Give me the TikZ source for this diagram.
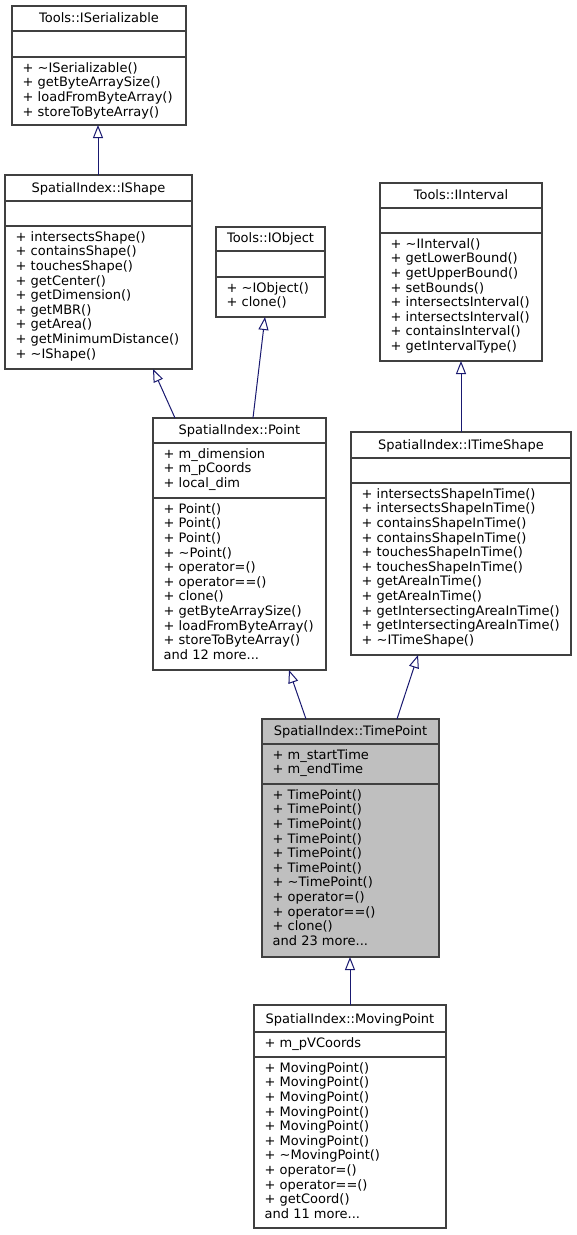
\documentclass[tikz,border=0pt]{standalone}
\usepackage{fontspec}
\setmainfont{DejaVu Sans}
\usetikzlibrary{arrows.meta}
\definecolor{edgeblue}{HTML}{191970}
\definecolor{boxborder}{HTML}{404040}
\definecolor{tpfill}{HTML}{BFBFBF}
\tikzset{
  classbox/.style={draw=boxborder, line width=1.3pt, inner sep=0pt, outer sep=0pt, anchor=north west},
  sepline/.style={draw=boxborder, line width=1.3pt},
  titletext/.style={anchor=base, inner sep=0pt, font=\fontsize{13}{14.6}\selectfont},
  membertext/.style={anchor=north west, inner sep=0pt, align=left, font=\fontsize{13}{14.6}\selectfont},
  inherit/.style={draw=edgeblue, line width=1pt, -{Triangle[open, length=13pt, width=10pt]}},
}
\def\umlgeom#1,#2,#3,#4,#5,#6\relax{\def\umll{#1}\def\umlt{#2}\def\umlr{#3}\def\umlb{#4}\def\umlla{#5}\def\umllb{#6}}
\newcommand\umlclass[6][white]{%
  \umlgeom#3\relax
  \pgfmathsetmacro\umlw{\umlr-\umll}%
  \pgfmathsetmacro\umlh{\umlb-\umlt}%
  \pgfmathsetmacro\umlcx{(\umll+\umlr)/2}%
  \pgfmathsetmacro\umltx{\umll+10.5}%
  \node[classbox, fill=#1, minimum width=\umlw pt, minimum height=\umlh pt] (#2) at (\umll,\umlt) {};
  \draw[sepline] (\umll,\umlla) -- (\umlr,\umlla);
  \draw[sepline] (\umll,\umllb) -- (\umlr,\umllb);
  \node[titletext] (#2-title) at ({\umlcx},{\umlla-9}) {#4};
  \if\relax\detokenize{#5}\relax\else
    \node[membertext] (#2-attr) at ({\umltx},{\umlla+4}) {\rule{0pt}{11pt}#5};
  \fi
  \node[membertext] (#2-meth) at ({\umltx},{\umllb+4}) {\rule{0pt}{11pt}#6};
}
\begin{document}
\begin{tikzpicture}[x=1pt,y=-1pt]
\fill[white] (0,0) rectangle (577,1235);
\useasboundingbox (0,0) rectangle (577,1235);

\umlclass{iser}{12,6,186,125,31,57}{Tools::ISerializable}{}%
  {+ \textasciitilde ISerializable()\\+ getByteArraySize()\\+ loadFromByteArray()\\+ storeToByteArray()}

\umlclass{ishape}{5,175,192,369,201,226}{SpatialIndex::IShape}{}%
  {+ intersectsShape()\\+ containsShape()\\+ touchesShape()\\+ getCenter()\\+ getDimension()\\+ getMBR()\\+ getArea()\\+ getMinimumDistance()\\+ \textasciitilde IShape()}

\umlclass{iobj}{216,227,325,317,251,277}{Tools::IObject}{}%
  {+ \textasciitilde IObject()\\+ clone()}

\umlclass{iint}{380,183,542,361,208,233}{Tools::IInterval}{}%
  {+ \textasciitilde IInterval()\\+ getLowerBound()\\+ getUpperBound()\\+ setBounds()\\+ intersectsInterval()\\+ intersectsInterval()\\+ containsInterval()\\+ getIntervalType()}

\umlclass{point}{153,418,326,670,443,498}{SpatialIndex::Point}%
  {+ m\_dimension\\+ m\_pCoords\\+ local\_dim}%
  {+ Point()\\+ Point()\\+ Point()\\+ \textasciitilde Point()\\+ operator=()\\+ operator==()\\+ clone()\\+ getByteArraySize()\\+ loadFromByteArray()\\+ storeToByteArray()\\and 12 more...}

\umlclass{its}{351,432,571,655,458,483}{SpatialIndex::ITimeShape}{}%
  {+ intersectsShapeInTime()\\+ intersectsShapeInTime()\\+ containsShapeInTime()\\+ containsShapeInTime()\\+ touchesShapeInTime()\\+ touchesShapeInTime()\\+ getAreaInTime()\\+ getAreaInTime()\\+ getIntersectingAreaInTime()\\+ getIntersectingAreaInTime()\\+ \textasciitilde ITimeShape()}

\umlclass[tpfill]{tp}{262,719,439,957,744,784}{SpatialIndex::TimePoint}%
  {+ m\_startTime\\+ m\_endTime}%
  {+ TimePoint()\\+ TimePoint()\\+ TimePoint()\\+ TimePoint()\\+ TimePoint()\\+ TimePoint()\\+ \textasciitilde TimePoint()\\+ operator=()\\+ operator==()\\+ clone()\\and 23 more...}

\umlclass{mp}{254,1005,446,1228,1032,1057}{SpatialIndex::MovingPoint}%
  {+ m\_pVCoords}%
  {+ MovingPoint()\\+ MovingPoint()\\+ MovingPoint()\\+ MovingPoint()\\+ MovingPoint()\\+ MovingPoint()\\+ \textasciitilde MovingPoint()\\+ operator=()\\+ operator==()\\+ getCoord()\\and 11 more...}

\draw[inherit] ([xshift=93pt]ishape.north west) -- ([xshift=86pt]iser.south west);
\draw[inherit] ([xshift=22pt]point.north west) -- ([xshift=148pt]ishape.south west);
\draw[inherit] ([xshift=100pt]point.north west) -- ([xshift=49pt]iobj.south west);
\draw[inherit] ([xshift=110pt]its.north west) -- ([xshift=81pt]iint.south west);
\draw[inherit] ([xshift=44pt]tp.north west) -- ([xshift=136pt]point.south west);
\draw[inherit] ([xshift=135pt]tp.north west) -- ([xshift=67pt]its.south west);
\draw[inherit] ([xshift=96pt]mp.north west) -- ([xshift=88pt]tp.south west);
\end{tikzpicture}
\end{document}
